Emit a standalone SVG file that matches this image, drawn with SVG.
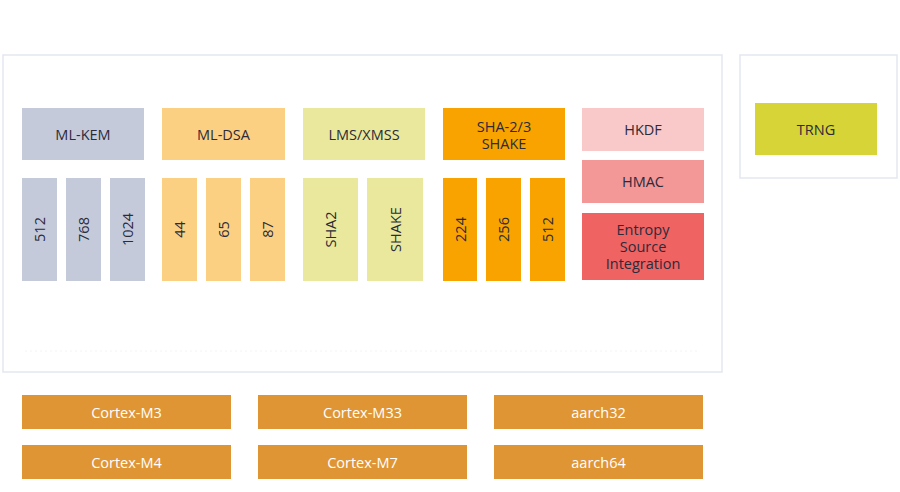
<svg xmlns="http://www.w3.org/2000/svg" width="900" height="492" viewBox="0 0 900 492">
<style>
text{font-family:"Open Sans","Noto Sans","DejaVu Sans",sans-serif;font-size:14.5px;fill:#2b2b3a;text-anchor:middle;dominant-baseline:central}
.ttl{fill:#ffffff;font-size:15px}
.w{fill:#ffffff}
.frame{fill:#ffffff;stroke:#e4e7f0;stroke-width:1.5}
.kem{fill:#c5cadb}
.dsa{fill:#fcd082}
.lms{fill:#e9e89c}
.sha{fill:#f9a300}
.hkdf{fill:#f9c9c9}
.hmac{fill:#f49797}
.ent{fill:#ef6363}
.trng{fill:#d6d436}
.cpu{fill:#e09535}
</style>
<rect width="900" height="492" fill="#ffffff"/>
<text class="ttl" x="362" y="21">Applications</text>
<g id="crypto">
<rect class="frame" x="3" y="55" width="719" height="317"/>
<text class="ttl" x="142" y="80">Cryptographic Primitives</text>
<text class="ttl" x="362" y="324">Common</text>
<line x1="25" y1="351" x2="700" y2="351" stroke="#f3f4f7" stroke-dasharray="2 3"/>
</g>
<g id="hardware">
<rect class="frame" x="740" y="55" width="157" height="123"/>
<text class="ttl" x="816" y="80">Hardware</text>
</g>
<g id="trng"><rect class="trng" x="755" y="103" width="122" height="52"/><text x="816" y="129">TRNG</text></g>
<g id="mlkem"><rect class="kem" x="22" y="108" width="122" height="52"/><text x="83" y="134">ML-KEM</text></g>
<g id="kem512"><rect class="kem" x="22" y="178" width="35" height="103"/><text transform="translate(39.5,229.5) rotate(-90)">512</text></g>
<g id="kem768"><rect class="kem" x="66" y="178" width="35" height="103"/><text transform="translate(83.5,229.5) rotate(-90)">768</text></g>
<g id="kem1024"><rect class="kem" x="110" y="178" width="35" height="103"/><text transform="translate(127.5,229.5) rotate(-90)">1024</text></g>
<g id="mldsa"><rect class="dsa" x="162" y="108" width="123" height="52"/><text x="223.5" y="134">ML-DSA</text></g>
<g id="dsa44"><rect class="dsa" x="162" y="178" width="35" height="103"/><text transform="translate(179.5,229.5) rotate(-90)">44</text></g>
<g id="dsa65"><rect class="dsa" x="206" y="178" width="35" height="103"/><text transform="translate(223.5,229.5) rotate(-90)">65</text></g>
<g id="dsa87"><rect class="dsa" x="250" y="178" width="35" height="103"/><text transform="translate(267.5,229.5) rotate(-90)">87</text></g>
<g id="lmsxmss"><rect class="lms" x="303" y="108" width="122" height="52"/><text x="364" y="134">LMS/XMSS</text></g>
<g id="lmssha2"><rect class="lms" x="303" y="178" width="55" height="103"/><text transform="translate(330.5,229.5) rotate(-90)">SHA2</text></g>
<g id="lmsshake"><rect class="lms" x="367" y="178" width="56" height="103"/><text transform="translate(395,229.5) rotate(-90)">SHAKE</text></g>
<g id="sha"><rect class="sha" x="443" y="108" width="122" height="52"/><text x="504" y="126">SHA-2/3</text><text x="504" y="143">SHAKE</text></g>
<g id="sha224"><rect class="sha" x="443" y="178" width="34" height="103"/><text transform="translate(460,229.5) rotate(-90)">224</text></g>
<g id="sha256"><rect class="sha" x="486" y="178" width="35" height="103"/><text transform="translate(503.5,229.5) rotate(-90)">256</text></g>
<g id="sha512"><rect class="sha" x="530" y="178" width="35" height="103"/><text transform="translate(547.5,229.5) rotate(-90)">512</text></g>
<g id="hkdf"><rect class="hkdf" x="582" y="108" width="122" height="43"/><text x="643" y="129.5">HKDF</text></g>
<g id="hmac"><rect class="hmac" x="582" y="160" width="122" height="43"/><text x="643" y="181.5">HMAC</text></g>
<g id="entropy"><rect class="ent" x="582" y="213" width="122" height="67"/><text x="643" y="229">Entropy</text><text x="643" y="246">Source</text><text x="643" y="263">Integration</text></g>
<g id="m3"><rect class="cpu" x="22" y="395" width="209" height="34"/><text class="w" x="126.5" y="412">Cortex-M3</text></g>
<g id="m33"><rect class="cpu" x="258" y="395" width="209" height="34"/><text class="w" x="362.5" y="412">Cortex-M33</text></g>
<g id="a32"><rect class="cpu" x="494" y="395" width="209" height="34"/><text class="w" x="598.5" y="412">aarch32</text></g>
<g id="m4"><rect class="cpu" x="22" y="445" width="209" height="34"/><text class="w" x="126.5" y="462">Cortex-M4</text></g>
<g id="m7"><rect class="cpu" x="258" y="445" width="209" height="34"/><text class="w" x="362.5" y="462">Cortex-M7</text></g>
<g id="a64"><rect class="cpu" x="494" y="445" width="209" height="34"/><text class="w" x="598.5" y="462">aarch64</text></g>
<g id="connectors"></g>
</svg>
